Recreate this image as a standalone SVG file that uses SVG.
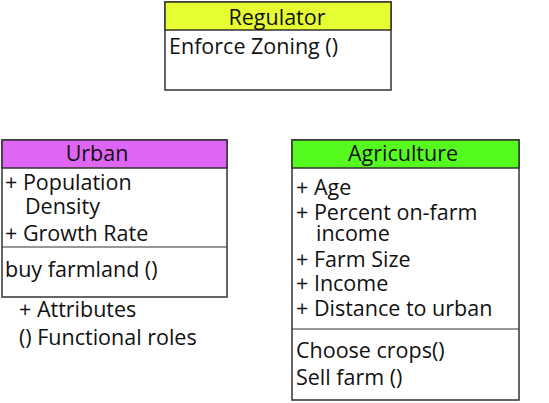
<svg xmlns="http://www.w3.org/2000/svg" width="549" height="403" viewBox="0 0 549 403">
<style>
.box{fill:#fff;stroke:#333;stroke-width:1.5}
.hdr{stroke:#333;stroke-width:1.5}
.sep{stroke:#333;stroke-width:1.2}
text{font-family:"Open Sans","Liberation Sans",sans-serif;font-size:21.5px;fill:#111}
.t{text-anchor:middle}
</style>
<rect width="549" height="403" fill="#fff"/>
<g id="regulator">
<rect class="box" x="165" y="2" width="226" height="88"/>
<rect class="hdr" x="165" y="2" width="226" height="28" fill="#e5fd32"/>
<text class="t" x="277" y="25">Regulator</text>
<text x="169" y="54">Enforce Zoning ()</text>
</g>
<g id="urban">
<rect class="box" x="2" y="140" width="225" height="157"/>
<rect class="hdr" x="2" y="140" width="225" height="28" fill="#df66f4"/>
<text class="t" x="97" y="161">Urban</text>
<text x="5" y="190">+ Population<tspan x="25" y="214">Density</tspan><tspan x="5" y="241">+ Growth Rate</tspan></text>
<line class="sep" x1="2" y1="247" x2="227" y2="247"/>
<text x="5" y="277">buy farmland ()</text>
</g>
<g id="legend">
<text x="19" y="317">+ Attributes<tspan x="19" y="345">() Functional roles</tspan></text>
</g>
<g id="agriculture">
<rect class="box" x="292" y="140" width="227" height="260"/>
<rect class="hdr" x="292" y="140" width="227" height="28" fill="#55fb1f"/>
<text class="t" x="403" y="161">Agriculture</text>
<text x="296" y="195">+ Age<tspan x="296" y="220">+ Percent on-farm</tspan><tspan x="316" y="241">income</tspan><tspan x="296" y="267">+ Farm Size</tspan><tspan x="296" y="291">+ Income</tspan><tspan x="296" y="316">+ Distance to urban</tspan></text>
<line class="sep" x1="292" y1="329" x2="519" y2="329"/>
<text x="296" y="358">Choose crops()<tspan x="296" y="385">Sell farm ()</tspan></text>
</g>
<g id="connectors"></g>
</svg>
